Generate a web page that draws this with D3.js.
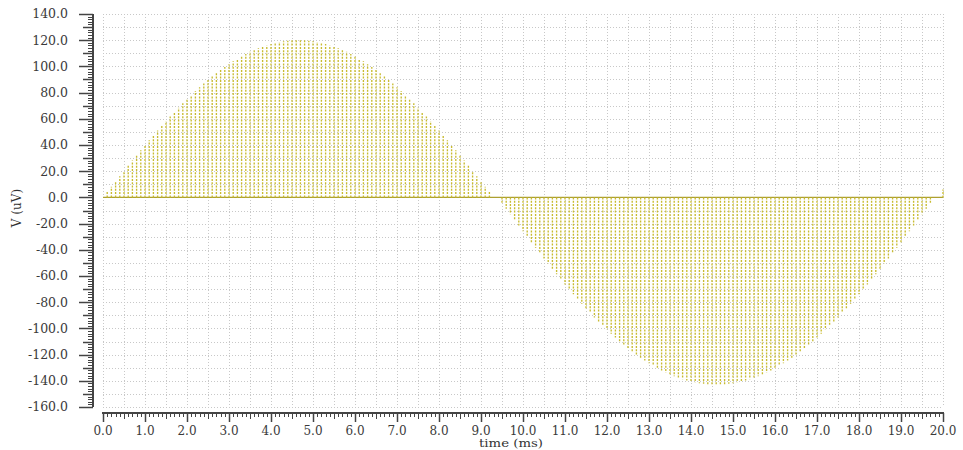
<!DOCTYPE html>
<html>
<head>
<meta charset="utf-8">
<script src="https://cdn.jsdelivr.net/npm/d3@7"></script>
<style>
  html, body { margin: 0; padding: 0; background: #fff; }
  svg { display: block; }
</style>
</head>
<body>
<svg id="chart" width="963" height="450" font-family="'DejaVu Serif', 'Liberation Serif', serif"></svg>
<script>
// Sampled output voltage (uV), one pulse every 0.1 ms starting at 0.0 ms.
// Positive lobe: 0.0 .. 9.3 ms
const vPositive = [
  0, 4.1, 8.1, 12.1, 16.2, 20.2, 24.2, 28.1, 32.0, 35.9,
  39.8, 43.6, 47.3, 51.0, 54.7, 58.2, 61.7, 65.2, 68.5, 71.8,
  75.0, 78.1, 81.2, 84.1, 86.9, 89.6, 92.3, 94.8, 97.2, 99.5,
  101.7, 103.9, 105.8, 107.7, 109.5, 111.1, 112.6, 113.9, 115.1, 116.2,
  117.1, 117.9, 118.6, 119.2, 119.6, 119.9, 120.0, 120.0, 119.9, 119.6,
  119.2, 118.6, 117.9, 117.1, 116.2, 115.1, 113.9, 112.6, 111.1, 109.5,
  107.7, 105.8, 103.9, 101.7, 99.5, 97.2, 94.8, 92.3, 89.6, 86.9,
  84.1, 81.2, 78.1, 75.0, 71.8, 68.5, 65.2, 61.7, 58.2, 54.7,
  51.0, 47.3, 43.6, 39.8, 35.9, 32.0, 28.1, 24.2, 20.2, 16.2,
  12.1, 8.1, 4.1, 0
];
// Negative lobe: 9.4 .. 19.8 ms
const vNegative = [
  0, -4.3, -8.6, -12.9, -17.2, -21.5, -25.8, -30.0, -34.2, -38.4,
  -42.5, -46.6, -50.7, -54.7, -58.7, -62.6, -66.5, -70.2, -74.0, -77.6,
  -81.2, -84.7, -88.2, -91.6, -94.8, -98.0, -101.1, -104.1, -107.0, -109.8,
  -112.5, -115.2, -117.7, -120.1, -122.4, -124.5, -126.6, -128.6, -130.4, -132.1,
  -133.7, -135.2, -136.5, -137.7, -138.8, -139.8, -140.6, -141.3, -141.9, -142.3,
  -142.6, -142.8, -143.0, -142.8, -142.6, -142.3, -141.9, -141.3, -140.6, -139.8,
  -138.8, -137.7, -136.5, -135.2, -133.7, -132.1, -130.4, -128.6, -126.6, -124.5,
  -122.4, -120.1, -117.7, -115.2, -112.5, -109.8, -107.0, -104.1, -101.1, -98.0,
  -94.8, -91.6, -88.2, -84.7, -81.2, -77.6, -74.0, -70.2, -66.5, -62.6,
  -58.7, -54.7, -50.7, -46.6, -42.5, -38.4, -34.2, -30.0, -25.8, -21.5,
  -17.2, -12.9, -8.6, -4.3, 0
];
// End of the record: 19.9 .. 20.0 ms
const vTail = [0, 6];

const sampleStepMs = 0.1;

const xTickLabels = ["0.0","1.0","2.0","3.0","4.0","5.0","6.0","7.0","8.0","9.0","10.0",
  "11.0","12.0","13.0","14.0","15.0","16.0","17.0","18.0","19.0","20.0"];
const yTickLabels = ["140.0","120.0","100.0","80.0","60.0","40.0","20.0","0.0","-20.0",
  "-40.0","-60.0","-80.0","-100.0","-120.0","-140.0","-160.0"];

const xDomain = [0, 20];
const yDomain = [-160, 140];

const svg = d3.select("#chart");

const x = d3.scaleLinear().domain(xDomain).range([103, 943]);
const y = d3.scaleLinear().domain(yDomain).range([407, 14]);

const samples = vPositive.concat(vNegative, vTail)
  .map((v, i) => ({ t: +(i * sampleStepMs).toFixed(2), v }));

// grid
const grid = svg.append("g").attr("class", "grid");
grid.selectAll("line.gx")
  .data(d3.range(0, 20.001, 0.5))
  .join("line")
  .attr("x1", d => Math.round(x(d)) + 0.5).attr("x2", d => Math.round(x(d)) + 0.5)
  .attr("y1", y(140)).attr("y2", y(-160))
  .attr("stroke", "#c8c8c8").attr("stroke-width", 1)
  .attr("stroke-dasharray", "1,2");
grid.selectAll("line.gy")
  .data(d3.range(-160, 140.001, 10))
  .join("line")
  .attr("y1", d => Math.round(y(d)) + 0.5).attr("y2", d => Math.round(y(d)) + 0.5)
  .attr("x1", x(0)).attr("x2", x(20))
  .attr("stroke", "#c8c8c8").attr("stroke-width", 1)
  .attr("stroke-dasharray", "1,2");

// trace: baseline plus one vertical stroke per pulse
const trace = svg.append("g").attr("class", "trace");
trace.append("line")
  .attr("x1", x(0)).attr("x2", x(20))
  .attr("y1", y(0)).attr("y2", y(0))
  .attr("stroke", "#ada030").attr("stroke-width", 1.3);
trace.selectAll("line.pulse")
  .data(samples.filter(d => d.v !== 0))
  .join("line")
  .attr("class", "pulse")
  .attr("x1", d => x(d.t)).attr("x2", d => x(d.t))
  .attr("y1", y(0)).attr("y2", d => y(d.v))
  .attr("stroke", "#c8bb30").attr("stroke-width", 1.35)
  .attr("stroke-dasharray", "2,1.3");

// y axis
const yAxisX = 93;
const yAx = svg.append("g").attr("class", "y-axis");
yAx.append("line")
  .attr("x1", yAxisX).attr("x2", yAxisX)
  .attr("y1", y(140)).attr("y2", y(-160))
  .attr("stroke", "#444").attr("stroke-width", 2);
yAx.selectAll("line.tick")
  .data(d3.range(-160, 140.001, 2))
  .join("line")
  .attr("x1", d => d % 20 === 0 ? yAxisX - 14 : (d % 10 === 0 ? yAxisX - 10 : yAxisX - 5))
  .attr("x2", yAxisX)
  .attr("y1", d => Math.round(y(d)) + 0.5).attr("y2", d => Math.round(y(d)) + 0.5)
  .attr("stroke", "#444").attr("stroke-width", d => d % 10 === 0 ? 1.5 : 1);
yAx.selectAll("text")
  .data(yTickLabels)
  .join("text")
  .attr("x", 68)
  .attr("y", d => y(+d))
  .attr("dy", "0.35em")
  .attr("text-anchor", "end")
  .attr("font-size", 12.5)
  .attr("fill", "#3a3a3a")
  .text(d => d);

// x axis
const xAxisY = 413;
const xAx = svg.append("g").attr("class", "x-axis");
xAx.append("line")
  .attr("x1", x(0) - 1).attr("x2", x(20) + 1)
  .attr("y1", xAxisY).attr("y2", xAxisY)
  .attr("stroke", "#444").attr("stroke-width", 2);
xAx.selectAll("line.tick")
  .data(d3.range(0, 200.5, 1).map(i => i / 10))
  .join("line")
  .attr("x1", d => Math.round(x(d)) + 0.5).attr("x2", d => Math.round(x(d)) + 0.5)
  .attr("y1", xAxisY)
  .attr("y2", (d, i) => i % 10 === 0 ? xAxisY + 9 : (i % 5 === 0 ? xAxisY + 6 : xAxisY + 4))
  .attr("stroke", "#444").attr("stroke-width", (d, i) => i % 10 === 0 ? 1.5 : 1);
xAx.selectAll("text")
  .data(xTickLabels)
  .join("text")
  .attr("x", d => x(+d))
  .attr("y", 435)
  .attr("text-anchor", "middle")
  .attr("font-size", 12)
  .attr("fill", "#3a3a3a")
  .text(d => d);

// axis titles
svg.append("text")
  .attr("x", 511).attr("y", 447)
  .attr("text-anchor", "middle")
  .attr("font-size", 11)
  .attr("fill", "#333")
  .attr("textLength", 64)
  .attr("lengthAdjust", "spacingAndGlyphs")
  .text("time (ms)");
svg.append("text")
  .attr("transform", "translate(21,208) rotate(-90)")
  .attr("text-anchor", "middle")
  .attr("font-size", 12)
  .attr("fill", "#333")
  .text("V (uV)");
</script>
</body>
</html>
